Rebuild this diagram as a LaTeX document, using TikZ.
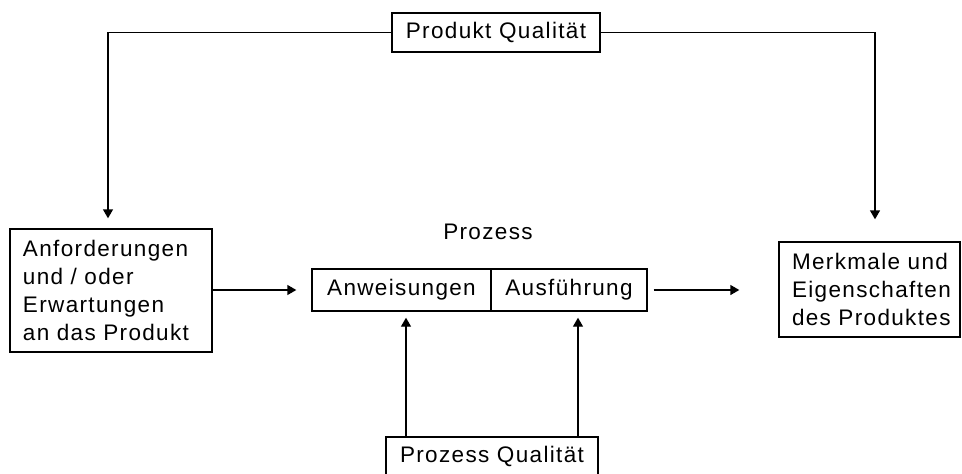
\documentclass[tikz,border=0pt]{standalone}
\usepackage{fontspec}
\setmainfont[LetterSpace=6]{Liberation Sans}
\usetikzlibrary{arrows.meta}
\begin{document}
\begin{tikzpicture}[x=1pt,y=-1pt,
  every node/.style={font=\fontsize{22.5}{28}\selectfont},
  box/.style={draw, line width=1.4pt, inner sep=0pt},
  conn/.style={line width=1.4pt, -{Triangle[length=9pt,width=10pt]}}]
\useasboundingbox (0,0) rectangle (962,474);
\clip (0,0) rectangle (962,474);
\fill[white] (0,0) rectangle (962,474);

\node[box, minimum width=208pt, minimum height=39pt] (pq) at (496,32.5) {Produkt Qualität};
\node[box, minimum width=202pt, minimum height=123pt, text width=176pt, align=left] (req) at (111,290.5) {\mbox{Anforderungen}\\\mbox{und / oder}\\\mbox{Erwartungen}\\\mbox{an das Produkt}};
\node[box, minimum width=181pt, minimum height=95pt, text width=155pt, align=left] (res) at (869.5,289.5) {\mbox{Merkmale und}\\\mbox{Eigenschaften}\\\mbox{des Produktes}};
\node[box, minimum width=179pt, minimum height=42pt] (anw) at (401.5,290) {Anweisungen};
\node[box, minimum width=156pt, minimum height=42pt] (aus) at (569,290) {Ausführung};
\node (proz) at (488,232) {Prozess};
\node[box, minimum width=212pt, minimum height=39pt] (pz) at (492,456.5) {Prozess Qualität};

\coordinate (t1) at ([xshift=-3pt]req.north);
\coordinate (t2) at ([xshift=5.5pt]res.north);
\coordinate (a1) at ([xshift=4.5pt]anw.south);
\coordinate (a2) at ([xshift=9pt]aus.south);

\draw[conn, shorten >=10pt] (pq.west) -| (t1);
\draw[conn, shorten >=22pt] (pq.east) -| (t2);
\draw[conn, shorten >=15pt] (req.east |- anw.west) -- (anw.west);
\draw[conn, shorten <=6pt, shorten >=39pt] (aus.east) -- (res.west |- aus.east);
\draw[conn, shorten >=6pt] (a1 |- pz.north) -- (a1);
\draw[conn, shorten >=6pt] (a2 |- pz.north) -- (a2);
\end{tikzpicture}
\end{document}
